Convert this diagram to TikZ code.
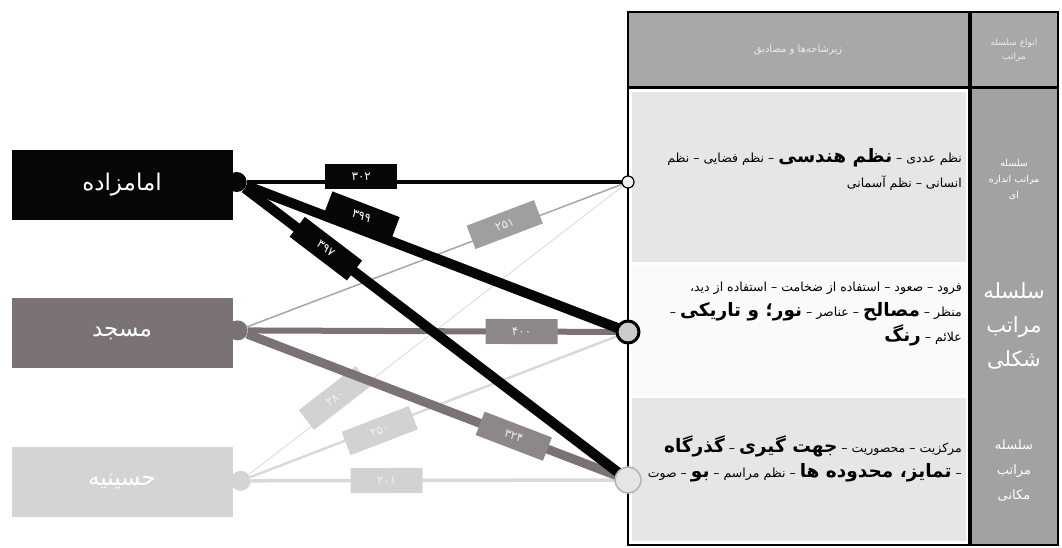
\documentclass[tikz,border=0pt]{standalone}
\usepackage{fontspec}
\usepackage{tikz}
\usetikzlibrary{positioning}
\newfontfamily\arabicfont[Script=Arabic]{DejaVu Sans}
\TeXXeTstate=1
\newcommand{\fa}[1]{\beginR #1\endR}
\newcommand{\keyw}[1]{{\fontsize{18.5}{22}\selectfont\bfseries #1}}
\definecolor{darkbox}{HTML}{060606}
\definecolor{midbox}{HTML}{7A7274}
\definecolor{lightbox}{HTML}{D4D4D4}
\definecolor{headgray}{HTML}{A8A8A8}
\definecolor{colgray}{HTML}{A2A2A2}
\definecolor{cellgray}{HTML}{E6E6E6}

\begin{document}
\begin{tikzpicture}[x=1pt,y=-1pt,node distance=78pt,
	place node/.style={rectangle,minimum width=221pt,minimum height=70pt,
		inner sep=0pt,text=white,font=\arabicfont\fontsize{23}{26}\selectfont},
	knob/.style={circle,inner sep=0pt,minimum size=20pt},
	end dot/.style={circle,draw,inner sep=0pt},
	count/.style={rectangle,sloped,minimum width=72pt,minimum height=25pt,
		inner sep=0pt,font=\arabicfont\fontsize{12}{14}\selectfont},
	cell text/.style={align=right,inner sep=0pt,
		font=\arabicfont\fontsize{12.5}{25}\selectfont},
	type text/.style={align=center,inner sep=0pt,text=white}]
	
	\useasboundingbox (0,0) rectangle (1062,548);
	
	\fill[headgray] (628,12) rectangle (1058,88);
	\fill[colgray] (970,88) rectangle (1058,545);
	\fill[cellgray] (632,92) rectangle (966,262);
	\fill[gray!4] (632,265) rectangle (966,395);
	\fill[cellgray] (632,398) rectangle (966,541);
	\draw[line width=2.5pt] (628,12) rectangle (1058,545);
	\draw[line width=3pt] (628,88) -- (1058,88);
	\draw[line width=4pt] (970,12) -- (970,545);
	
	\node[type text,font=\arabicfont\fontsize{10}{12}\selectfont,text=gray!15] (subhead) at (798,50) {\fa{زیرشاخه‌ها و مصادیق}};
	\node[type text,font=\arabicfont\fontsize{9}{14}\selectfont,text=gray!15] (typehead) at (1014,50) {\fa{انواع سلسله}\\\fa{مراتب}};
	\node[type text,font=\arabicfont\fontsize{9.5}{16}\selectfont] (sizetype) at (1014,180) {\fa{سلسله}\\\fa{مراتب اندازه}\\\fa{ای}};
	\node[type text,font=\arabicfont\fontsize{21}{34}\selectfont] (shapetype) at (1014,326) {\fa{سلسله}\\\fa{مراتب}\\\fa{شکلی}};
	\node[type text,font=\arabicfont\fontsize{13}{25}\selectfont] (placetype) at (1014,470) {\fa{سلسله}\\\fa{مراتب}\\\fa{مکانی}};
	
	\node[cell text,anchor=north east] (ordertext) at (962,148) {\fa{نظم عددی – \keyw{نظم هندسی} – نظم فضایی – نظم}\\\fa{انسانی – نظم آسمانی}};
	\node[cell text,anchor=north east] (shapetext) at (962,282) {\fa{فرود – صعود – استفاده از ضخامت – استفاده از دید،}\\\fa{منظر – \keyw{مصالح} – عناصر – \keyw{نور؛ و تاریکی} –}\\\fa{علائم – \keyw{رنگ}}};
	\node[cell text,anchor=north east] (placetext) at (962,435) {\fa{مرکزیت – محصوریت – \keyw{جهت گیری} – \keyw{گذرگاه}}\\\fa{– \keyw{تمایز، محدوده ها} – نظم مراسم – \keyw{بو} – صوت}};
	
	\node[place node,fill=darkbox] (imam) at (122,185) {\fa{امامزاده}};
	\node[place node,fill=midbox,below=of imam] (masjed) {\fa{مسجد}};
	\node[place node,fill=lightbox,below=of masjed] (hoseinie) {\fa{حسینیه}};
	
	\node[knob,fill=darkbox] (imamk) at ([xshift=4pt,yshift=3pt]imam.east) {};
	\node[knob,fill=midbox] (masjedk) at ([xshift=5pt,yshift=3pt]masjed.east) {};
	\node[knob,fill=lightbox] (hoseiniek) at ([xshift=8pt,yshift=1pt]hoseinie.east) {};
	
	\coordinate (topdot) at (628,182);
	\coordinate (middot) at (628,332);
	\coordinate (lowdot) at (628,480);
	
	\path[every node/.style={count,fill=gray!35,text=gray!10}]
	(hoseiniek) edge[draw=gray!25,line width=1pt] node[pos=0.24,yshift=8pt] {\fa{۲۸۰}} (topdot)
	(hoseiniek) edge[draw=gray!30,line width=2.5pt] node[pos=0.34,yshift=-3pt] {\fa{۲۵۰}} (middot)
	(hoseiniek) edge[draw=gray!30,line width=3.5pt] node[pos=0.36] {\fa{۲۰۱}} (lowdot);
	
	\path[every node/.style={count,fill=midbox!85,text=gray!15}]
	(masjedk) edge[draw=gray!70,line width=1.5pt] node[pos=0.68,yshift=4pt,fill=gray!75] {\fa{۲۵۱}} (topdot)
	(masjedk) edge[draw=midbox,line width=6pt] node[pos=0.72] {\fa{۴۰۰}} (middot)
	(masjedk) edge[draw=midbox,line width=9pt] node[pos=0.70] {\fa{۳۲۴}} (lowdot);
	
	\path[every node/.style={count,fill=darkbox,text=white}]
	(imamk) edge[draw=darkbox,line width=4pt] node[pos=0.30,yshift=5pt] {\fa{۳۰۲}} (topdot)
	(imamk) edge[draw=darkbox,line width=10pt] node[pos=0.29,yshift=13pt] {\fa{۳۹۹}} (middot)
	(imamk) edge[draw=darkbox,line width=10pt] node[pos=0.21,yshift=1pt] {\fa{۳۹۷}} (lowdot);
	
	\node[end dot,minimum size=12pt,fill=gray!12,line width=1.2pt] (topend) at (topdot) {};
	\node[end dot,minimum size=22pt,fill=gray!40,line width=3pt] (midend) at (middot) {};
	\node[end dot,minimum size=26pt,fill=gray!20,draw=gray!60,line width=1.5pt] (lowend) at (lowdot) {};
	
\end{tikzpicture}
\end{document}
